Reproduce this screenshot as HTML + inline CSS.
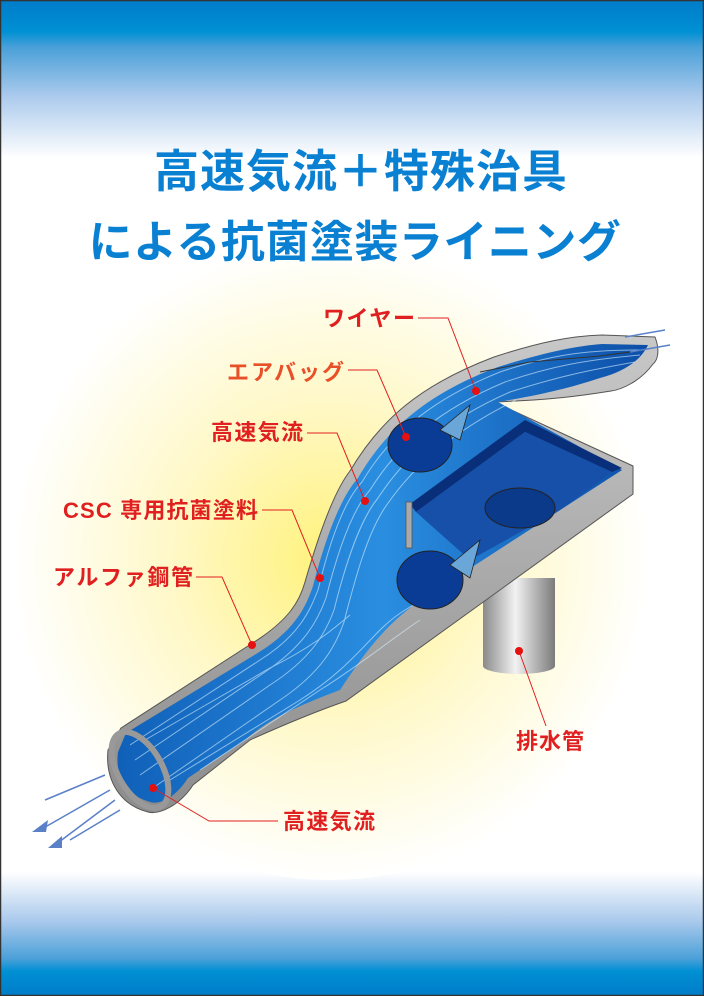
<!DOCTYPE html>
<html><head><meta charset="utf-8"><style>
html,body{margin:0;padding:0;width:704px;height:996px;overflow:hidden;background:#fff}
svg{display:block}
text{font-family:"Liberation Sans","Noto Sans CJK JP",sans-serif;font-weight:bold}
</style></head><body>
<svg width="704" height="996" viewBox="0 0 704 996" xmlns="http://www.w3.org/2000/svg">
<defs>
<linearGradient id="top" x1="0" y1="0" x2="0" y2="1">
<stop offset="0" stop-color="#007cc8"/><stop offset="0.2" stop-color="#0090d4"/><stop offset="0.3" stop-color="#4aa0d8"/><stop offset="0.6" stop-color="#a9c9ec"/><stop offset="1" stop-color="#ffffff"/></linearGradient>
<linearGradient id="bot" x1="0" y1="1" x2="0" y2="0">
<stop offset="0" stop-color="#007cc8"/><stop offset="0.2" stop-color="#0090d4"/><stop offset="0.3" stop-color="#4aa0d8"/><stop offset="0.6" stop-color="#a9c9ec"/><stop offset="1" stop-color="#ffffff"/></linearGradient>
<radialGradient id="glow" cx="330" cy="560" r="320" gradientUnits="userSpaceOnUse">
<stop offset="0" stop-color="#fff27a"/><stop offset="0.5" stop-color="#fff8c8"/><stop offset="1" stop-color="#ffffff"/></radialGradient>
<linearGradient id="blue" x1="0" y1="0" x2="1" y2="0">
<stop offset="0" stop-color="#1060b8"/><stop offset="0.5" stop-color="#2a8ee0"/><stop offset="1" stop-color="#0c4ea8"/></linearGradient>
<linearGradient id="cyl" x1="0" y1="0" x2="1" y2="0">
<stop offset="0" stop-color="#8a8a8a"/><stop offset="0.45" stop-color="#f2f2f2"/><stop offset="1" stop-color="#7a7a7a"/></linearGradient>
<linearGradient id="gray" x1="0" y1="0" x2="0" y2="1">
<stop offset="0" stop-color="#c8c8c8"/><stop offset="1" stop-color="#8c8c8c"/></linearGradient>
</defs>
<rect x="0" y="0" width="704" height="996" fill="#fff"/>
<rect x="0" y="0" width="704" height="158" fill="url(#top)"/>
<rect x="0" y="872" width="704" height="124" fill="url(#bot)"/>
<circle cx="330" cy="560" r="320" fill="url(#glow)"/>
<rect x="0.5" y="0.5" width="703" height="995" fill="none" stroke="#333" stroke-width="1.5"/>

<text x="361" y="187" font-size="45" fill="#0a80d2" text-anchor="middle" letter-spacing="1">高速気流＋特殊治具</text>
<text x="355" y="257" font-size="44" fill="#0a80d2" text-anchor="middle" letter-spacing="0.5">による抗菌塗装ライニング</text>

<!-- drain pipe -->
<rect x="483" y="578" width="72" height="88" fill="url(#cyl)"/>
<ellipse cx="519" cy="666" rx="36" ry="8" fill="url(#cyl)"/>

<!-- outer gray silhouette -->
<path d="M121,728 L251,644 C290,620 300,600 305,582 C320,530 335,490 350,471 C380,420 420,385 494,357 C540,342 570,336 602,335 L655,337 C660,350 658,360 653,364 C640,382 620,390 611,391 C580,396 550,400 494,402 L633,466 L633,494 L346,701 C320,710 290,722 250,740 L193,785 C180,805 160,815 148,812 C120,805 105,780 108,750 Z" fill="url(#gray)" stroke="#555" stroke-width="1"/>
<!-- blue interior -->
<path d="M126,733 L256,654 C296,630 306,606 313,586 C326,536 341,497 358,478 C386,430 426,394 498,367 C546,352 576,346 602,344 L648,345 C640,362 622,372 600,378 C570,388 540,395 498,402 L622,470 L415,604 C380,630 360,660 340,690 C300,705 270,718 245,740 L188,778 C175,798 160,805 150,802 C125,795 115,775 118,752 Z" fill="url(#blue)"/>
<!-- box back wall -->
<path d="M410,504 L525,420 L622,468 L612,472 L525,432 L416,512 Z" fill="#0a2f7a"/>
<path d="M416,512 L525,432 L612,472 L560,510 L470,560 Z" fill="#1650a8"/>
<ellipse cx="520" cy="508" rx="35" ry="20" fill="#0c3a8a" stroke="#222" stroke-width="1"/>
<rect x="406" y="502" width="6" height="46" fill="#aaa" stroke="#555" stroke-width="0.8"/>
<!-- streaks -->
<g fill="none" stroke="#d8f0ff" stroke-width="1" opacity="0.6">
<path d="M130,745 L260,660 C300,635 310,610 318,590 C330,540 345,500 362,482 C390,435 430,400 500,372 C548,356 580,350 640,350"/>
<path d="M135,760 L265,672 C305,645 318,620 326,598 C338,550 352,510 370,490 C398,445 438,410 505,382 C552,366 585,360 640,355"/>
<path d="M140,775 L270,685 C312,658 326,632 334,610 C346,562 360,520 378,498 C406,455 446,420 510,392 C560,376 590,370 635,362"/>
<path d="M150,790 L280,700 C322,672 336,645 344,622 C356,575 368,532 386,506 C414,465 455,430 516,400"/>
<path d="M170,780 L300,700 C340,675 360,650 380,630 C400,610 420,600 450,590"/>
<path d="M200,770 L320,690 C360,665 390,640 420,620"/>
<path d="M145,740 L270,668 C310,648 330,632 350,615"/>
</g>
<!-- mouths -->
<ellipse cx="140" cy="770" rx="22" ry="42" fill="none" stroke="#999" stroke-width="6" transform="rotate(-30 140 770)"/>
<!-- airbags -->
<ellipse cx="420" cy="445" rx="32" ry="27" fill="#0a3c96" stroke="#222" stroke-width="1"/>
<path d="M440,430 L470,405 L460,440 Z" fill="#6aa6d8" stroke="#222" stroke-width="0.8"/>
<ellipse cx="430" cy="580" rx="33" ry="29" fill="#0a3c96" stroke="#222" stroke-width="1"/>
<path d="M450,565 L480,540 L470,578 Z" fill="#6aa6d8" stroke="#222" stroke-width="0.8"/>
<path d="M480,372 L530,362 L600,356 L630,352" fill="none" stroke="#333" stroke-width="1"/>
<!-- arrows -->
<g stroke="#5a80c8" stroke-width="1.5">
<line x1="110" y1="790" x2="40" y2="830"/><line x1="115" y1="800" x2="55" y2="845"/>
<line x1="105" y1="775" x2="45" y2="800"/><line x1="120" y1="810" x2="70" y2="840"/>
<line x1="665" y1="330" x2="625" y2="337"/><line x1="670" y1="345" x2="630" y2="352"/>
</g>
<path d="M32,832 L48,820 L46,832 Z" fill="#5a80c8"/><path d="M48,848 L62,836 L62,848 Z" fill="#5a80c8"/>

<!-- leader lines -->
<g fill="none" stroke="#e02020" stroke-width="1">
<polyline points="418,318 448,318 476,391"/>
<polyline points="348,370 377,370 406,437"/>
<polyline points="307,433 337,433 365,501"/>
<polyline points="262,510 292,510 320,578"/>
<polyline points="196,577 222,577 252,645"/>
<polyline points="546,726 519,651"/>
<polyline points="278,821 209,821 153,788"/>
</g>
<g fill="#e51010">
<circle cx="476" cy="391" r="4"/><circle cx="406" cy="437" r="4"/><circle cx="365" cy="501" r="4"/>
<circle cx="320" cy="578" r="4"/><circle cx="252" cy="645" r="4"/><circle cx="519" cy="651" r="4"/><circle cx="153" cy="788" r="4"/>
</g>
<g font-size="22" fill="#e02020">
<text x="323" y="326" textLength="92">ワイヤー</text>
<text x="227" y="380" fill="#e8502a" textLength="117">エアバッグ</text>
<text x="211" y="440" textLength="92">高速気流</text>
<text x="63" y="518" textLength="195">CSC 専用抗菌塗料</text>
<text x="53" y="585" textLength="140">アルファ鋼管</text>
<text x="516" y="749" textLength="68">排水管</text>
<text x="283" y="829" textLength="92">高速気流</text>
</g>
</svg>
</body></html>
